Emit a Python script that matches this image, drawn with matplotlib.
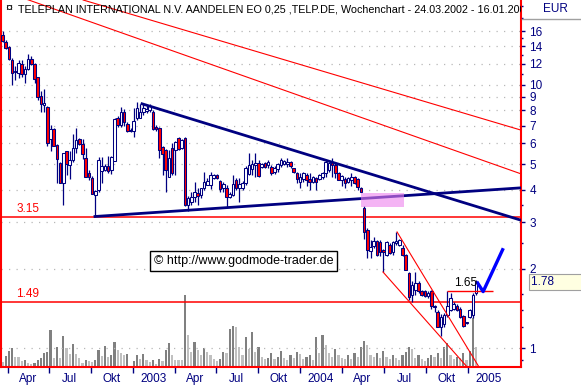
import numpy as np
import matplotlib
matplotlib.use("Agg")
import matplotlib.pyplot as plt
from matplotlib.patches import Rectangle
from matplotlib.ticker import FixedLocator, NullFormatter, FuncFormatter
from matplotlib.transforms import blended_transform_factory

plt.rcParams['font.family'] = ['Liberation Sans', 'DejaVu Sans']

# weekly candles TELP.DE, first week 24.03.2002
opens = [15.4, 14.6, 13.9, 12.45, 11.2, 11.07, 12.02, 10.95, 11.47, 12.5,
         12.0, 10.7, 9.08, 8.35, 8.22, 6.22, 6.78, 5.9, 5.04, 4.23,
         5.58, 4.95, 5.19, 5.74, 6.22, 5.95, 5.28, 4.63, 4.41, 3.82,
         3.99, 4.7, 4.75, 4.9, 4.75, 5.15, 7.5, 7.05, 7.9, 7.1,
         6.75, 6.7, 7.5, 7.5, 7.9, 7.95, 8.0, 7.9, 6.9, 6.85,
         5.8, 5.66, 4.47, 5.77, 5.66, 6.3, 5.75, 6.3, 3.5, 3.6,
         3.76, 3.89, 3.82, 4.06, 4.17, 4.17, 4.43, 4.55, 4.32, 4.06,
         4.06, 3.76, 3.82, 4.35, 4.06, 4.06, 4.24, 4.6, 4.8, 4.96,
         5.04, 4.88, 5.04, 4.96, 4.88, 4.68, 4.79, 4.96, 5.0, 5.0,
         5.08, 4.82, 4.64, 4.29, 4.37, 4.55, 4.38, 4.29, 4.41, 4.38,
         4.48, 4.63, 4.75, 5.1, 4.96, 4.63, 4.35, 4.38, 4.29, 4.35,
         4.48, 4.38, 4.05, 3.4, 2.81, 2.34, 2.44, 2.55, 2.53, 2.35,
         2.26, 2.46, 2.32, 2.5, 2.46, 2.4, 2.26, 1.93, 1.59, 1.66,
         1.77, 1.65, 1.65, 1.57, 1.65, 1.43, 1.37, 1.2, 1.23, 1.34,
         1.39, 1.41, 1.45, 1.41, 1.32, 1.25, 1.31, 1.34, 1.62]
highs = [16.0, 14.8, 14.0, 12.6, 11.75, 12.45, 12.45, 11.8, 13.04, 12.9,
         12.1, 10.75, 9.51, 9.63, 8.3, 7.05, 6.85, 5.95, 5.1, 5.5,
         5.62, 5.58, 6.51, 6.84, 6.3, 6.2, 5.74, 4.75, 4.5, 4.0,
         5.3, 5.31, 5.0, 5.35, 5.35, 7.45, 7.6, 8.2, 8.1, 7.2,
         6.85, 8.15, 8.6, 8.45, 8.45, 8.4, 8.45, 8.0, 7.04, 6.9,
         5.85, 5.7, 5.66, 6.0, 6.1, 6.35, 6.2, 6.35, 3.78, 3.93,
         4.29, 4.06, 4.07, 4.68, 4.43, 4.68, 4.6, 4.6, 4.35, 4.29,
         4.17, 3.93, 4.55, 4.43, 4.43, 4.3, 4.92, 5.5, 5.19, 5.5,
         5.19, 5.05, 5.1, 5.19, 4.96, 4.9, 5.04, 5.28, 5.2, 5.28,
         5.12, 4.85, 4.68, 4.64, 4.68, 4.64, 4.61, 4.5, 4.48, 4.6,
         4.65, 5.19, 5.1, 5.28, 5.04, 4.68, 4.55, 4.48, 4.45, 4.63,
         4.5, 4.41, 4.1, 3.45, 2.85, 2.57, 2.65, 2.57, 2.57, 2.38,
         2.55, 2.5, 2.55, 2.77, 2.6, 2.46, 2.28, 1.94, 1.79, 1.95,
         1.79, 1.66, 1.66, 1.64, 1.66, 1.46, 1.39, 1.35, 1.36, 1.65,
         1.62, 1.5, 1.47, 1.43, 1.34, 1.26, 1.41, 1.62, 1.81]
lows = [14.6, 13.7, 12.4, 9.94, 10.45, 10.61, 10.7, 10.15, 11.4, 11.9,
        10.15, 8.77, 7.91, 7.91, 5.83, 5.58, 5.86, 4.25, 4.22, 3.5,
        4.55, 4.38, 5.1, 5.5, 5.9, 5.22, 4.48, 4.35, 3.85, 3.16,
        3.93, 4.22, 4.7, 4.64, 4.6, 5.12, 6.9, 6.9, 7.0, 6.6,
        6.6, 6.35, 7.36, 7.45, 7.7, 7.8, 7.9, 6.75, 6.65, 5.28,
        4.55, 3.92, 4.45, 4.55, 4.55, 5.66, 5.7, 3.45, 3.33, 3.5,
        3.6, 3.5, 3.72, 3.99, 4.15, 4.02, 4.4, 4.4, 3.93, 3.93,
        3.43, 3.72, 3.77, 3.99, 3.6, 4.0, 4.17, 4.55, 4.55, 4.48,
        4.47, 4.85, 4.85, 4.82, 4.55, 4.6, 4.68, 4.88, 4.95, 4.88,
        4.85, 4.64, 4.23, 4.04, 4.29, 4.11, 3.99, 4.25, 3.97, 4.35,
        4.38, 4.48, 4.68, 4.48, 4.41, 4.33, 4.11, 4.04, 4.25, 4.11,
        4.2, 3.99, 3.92, 2.6, 2.2, 2.2, 2.4, 2.24, 2.24, 1.95,
        2.24, 2.28, 2.26, 2.46, 2.44, 2.23, 1.98, 1.52, 1.5, 1.59,
        1.62, 1.57, 1.56, 1.55, 1.41, 1.37, 1.2, 1.11, 1.2, 1.31,
        1.38, 1.39, 1.38, 1.3, 1.2, 1.23, 1.3, 1.3, 1.59]
closes = [14.7, 13.8, 12.5, 11.13, 11.25, 12.09, 11.0, 11.47, 12.5, 12.0,
          10.52, 8.98, 8.47, 8.55, 6.03, 6.78, 5.86, 5.22, 4.25, 5.5,
          5.0, 5.19, 5.74, 6.18, 5.95, 5.46, 4.48, 4.48, 3.85, 3.95,
          5.19, 4.9, 4.9, 4.7, 5.31, 7.42, 7.05, 7.9, 7.2, 6.7,
          6.65, 7.3, 8.15, 7.9, 8.15, 8.1, 8.3, 6.8, 6.8, 5.66,
          5.45, 4.75, 5.28, 4.64, 6.05, 5.7, 6.18, 3.5, 3.73, 3.76,
          3.92, 3.79, 4.06, 4.28, 4.32, 4.55, 4.55, 4.43, 4.03, 4.2,
          3.76, 3.86, 4.2, 4.06, 4.2, 4.24, 4.85, 4.96, 5.0, 5.04,
          4.5, 5.0, 4.88, 5.1, 4.64, 4.85, 5.0, 5.19, 5.15, 5.1,
          4.9, 4.68, 4.39, 4.48, 4.63, 4.35, 4.29, 4.45, 4.29, 4.55,
          4.63, 5.1, 5.04, 4.96, 4.63, 4.35, 4.5, 4.25, 4.41, 4.48,
          4.25, 4.1, 3.93, 2.76, 2.36, 2.42, 2.55, 2.26, 2.32, 2.32,
          2.53, 2.3, 2.53, 2.55, 2.57, 2.26, 1.98, 1.56, 1.74, 1.77,
          1.65, 1.59, 1.57, 1.62, 1.44, 1.44, 1.2, 1.31, 1.34, 1.44,
          1.55, 1.47, 1.39, 1.31, 1.21, 1.25, 1.39, 1.59, 1.78]
# volume (thousand shares)
volumes = [5, 11, 16, 19, 10, 10, 6, 7, 4, 3,
           4, 7, 9, 14, 15, 37, 9, 20, 9, 31,
           19, 13, 23, 13, 9, 4, 7, 6, 5, 7,
           17, 11, 21, 10, 12, 25, 17, 14, 12, 13,
           1, 6, 12, 8, 13, 7, 5, 7, 3, 8,
           6, 17, 24, 12, 7, 7, 7, 72, 32, 15,
           25, 17, 12, 19, 15, 12, 8, 6, 8, 15,
           14, 38, 41, 40, 20, 12, 30, 18, 35, 15,
           20, 10, 8, 9, 14, 8, 10, 16, 9, 7,
           12, 9, 15, 13, 8, 10, 12, 7, 30, 14,
           32, 22, 14, 10, 18, 12, 9, 8, 12, 8,
           14, 10, 20, 26, 22, 12, 10, 14, 9, 16,
           10, 8, 12, 9, 7, 12, 15, 20, 18, 9,
           12, 8, 6, 9, 12, 10, 14, 9, 20, 24,
           12, 8, 10, 9, 14, 7, 16, 49, 20]
volumes = [v * 1000 for v in volumes]

start_date = np.datetime64('2002-03-24')
quarter_dates = ['2002-04-01', '2002-07-01', '2002-10-01', '2003-01-01',
                 '2003-04-01', '2003-07-01', '2003-10-01', '2004-01-01',
                 '2004-04-01', '2004-07-01', '2004-10-01', '2005-01-01']
quarter_labels = ['Apr', 'Jul', 'Okt', '2003', 'Apr', 'Jul', 'Okt', '2004',
                  'Apr', 'Jul', 'Okt', '2005']
price_ticks = [1, 2, 3, 4, 5, 6, 7, 8, 9, 10, 12, 14, 16]
minor_ticks = [0.9, 1.2, 1.4, 1.6, 2.5, 3.5, 11, 13, 15, 18, 20]

# support / resistance levels and drawn lines (week index, price)
levels = [3.15, 1.49]
last_price = 1.78
breakout = 1.65
breakout_weeks = [139, 153.2]
tri_down = ([43.6, 162.0], [8.47, 3.06])
tri_up = ([28.9, 162.0], [3.16, 4.06])
trend_a = ([-0.8, 162.0], [22.95, 4.59])
trend_b = ([25.2, 162.0], [21.0, 6.73])
chan_up = ([123.3, 148.9], [2.76, 0.847])
chan_low = ([118.9, 145.2], [1.945, 0.847])
check = ([148.2, 150.2, 156.5], [1.787, 1.638, 2.394])
gap_zone = (112.0, 125.5, 3.44, 3.87)

NAVY = '#000080'
RED = '#ff0000'

fig = plt.figure(figsize=(5.81, 3.86), dpi=100)
rect = [1 / 581, 19 / 386, 520 / 581, 367 / 386]
axv = fig.add_axes(rect)
ax = fig.add_axes(rect)
ax.set_facecolor('none')

weeks = np.arange(len(closes))
xlim = (-0.47, 162.03)

# volume
vcol = ['#c0c0c0'] + ['#808080' if volumes[i] > volumes[i - 1] else '#c0c0c0'
                      for i in range(1, len(volumes))]
axv.bar(weeks, volumes, width=0.66, color=vcol, linewidth=0)
axv.set_xlim(*xlim)
axv.set_ylim(0, 367000)
axv.axis('off')

# candles
ax.set_yscale('log')
ax.vlines(weeks, lows, highs, color=NAVY, lw=0.9, zorder=3)
o = np.array(opens)
c = np.array(closes)
body_lo = np.minimum(o, c)
body_h = np.maximum(np.abs(c - o), 0.004 * c)
fills = [RED if cc < oo else 'white' for oo, cc in zip(opens, closes)]
ax.bar(weeks, body_h, bottom=body_lo, width=0.8, color=fills,
       edgecolor=NAVY, linewidth=0.75, zorder=4)

# lines
for lv in levels:
    ax.axhline(lv, color=RED, lw=1.1, zorder=2)
ax.plot(*trend_a, color=RED, lw=0.8, zorder=2)
ax.plot(*trend_b, color=RED, lw=0.8, zorder=2)
ax.plot(*chan_up, color=RED, lw=0.8, zorder=5)
ax.plot(*chan_low, color=RED, lw=0.8, zorder=5)
ax.plot(*tri_down, color=NAVY, lw=2.0, zorder=5)
ax.plot(*tri_up, color=NAVY, lw=2.0, zorder=5)
ax.hlines(breakout, *breakout_weeks, color=RED, lw=1.0, zorder=5)
ax.plot(*check, color='#0000ff', lw=2.4, zorder=6, solid_capstyle='butt')
ax.add_patch(Rectangle((gap_zone[0], gap_zone[2]), gap_zone[1] - gap_zone[0],
                       gap_zone[3] - gap_zone[2], facecolor='#ee82ee',
                       edgecolor='none', alpha=0.6, zorder=6))

ax.set_xlim(*xlim)
ax.set_ylim(0.847, 21.0)

# axes look
for s in ['left', 'right', 'bottom']:
    ax.spines[s].set_color(RED)
    ax.spines[s].set_linewidth(1.5)
ax.spines['top'].set_visible(False)

ax.yaxis.tick_right()
ax.yaxis.set_major_locator(FixedLocator(price_ticks))
ax.yaxis.set_major_formatter(FuncFormatter(lambda v, p: '%g' % v))
ax.yaxis.set_minor_locator(FixedLocator(minor_ticks))
ax.yaxis.set_minor_formatter(NullFormatter())
ax.tick_params(axis='y', which='major', length=3, width=1, color=NAVY,
               labelcolor=NAVY, labelsize=8.5, pad=3)
ax.tick_params(axis='y', which='minor', length=1.2, width=1, color=NAVY)
ax.grid(axis='y', which='major', color='#b8b8b8', linestyle=(0, (1, 5)), lw=0.9)
ax.set_axisbelow(True)

qpos = [(np.datetime64(d) - start_date) / np.timedelta64(7, 'D') + 0.5
        for d in quarter_dates]
ax.xaxis.set_major_locator(FixedLocator(qpos))
ax.xaxis.set_major_formatter(NullFormatter())
ax.xaxis.set_minor_locator(FixedLocator([q + 6.4 for q in qpos]))
ax.xaxis.set_minor_formatter(FuncFormatter(lambda v, p: quarter_labels[p]))
ax.tick_params(axis='x', which='major', length=4, width=1, color=NAVY)
ax.tick_params(axis='x', which='minor', length=0, labelcolor=NAVY,
               labelsize=8.5, pad=4)

# texts
ax.text(17 / 520, 1 - 9 / 367,
        'TELEPLAN INTERNATIONAL N.V. AANDELEN EO 0,25 ,TELP.DE, Wochenchart '
        '- 24.03.2002 - 16.01.2005', transform=ax.transAxes, fontsize=7.75,
        va='center', ha='left', color='black', clip_on=True, zorder=7)
ax.text(8 / 520, 1 - 9 / 367, '\u00a4', transform=ax.transAxes, fontsize=9,
        va='center', ha='center', color='black')
tr = blended_transform_factory(ax.transAxes, ax.transData)
for lv in levels:
    ax.annotate('%.2f' % lv, xy=(27 / 520, lv), xycoords=tr,
                xytext=(0, 1.5), textcoords='offset points', ha='center',
                va='bottom', color=RED, fontsize=8.5)
ax.annotate('%.2f' % breakout, xy=(np.mean(breakout_weeks) - 1.5, breakout),
            xytext=(0, 1), textcoords='offset points', ha='center',
            va='bottom', color='black', fontsize=8.5, zorder=7)
ax.text(153 / 520, 1 - 261 / 367, '\u00a9 http://www.godmode-trader.de',
        transform=ax.transAxes, fontsize=9, va='center', ha='left',
        bbox=dict(boxstyle='square,pad=0.3', fc='white', ec='black', lw=1),
        zorder=8)
ax.text(1 + 10 / 520, last_price, '%.2f        ' % last_price, transform=tr,
        fontsize=8.5, va='center', ha='left', color=NAVY, clip_on=False,
        bbox=dict(boxstyle='square,pad=0.15', fc='#ffffe1', ec='#a0a0a0', lw=0.8))

fig.text(555 / 581, 1 - 9 / 386, 'EUR', fontsize=8.5, ha='center', va='center',
         color=NAVY)
fig.add_artist(plt.Line2D([522 / 581, 1], [1 - 19 / 386] * 2, color='#a0a0a0',
                          lw=1, transform=fig.transFigure))

fig.savefig('out.png', dpi=100)
